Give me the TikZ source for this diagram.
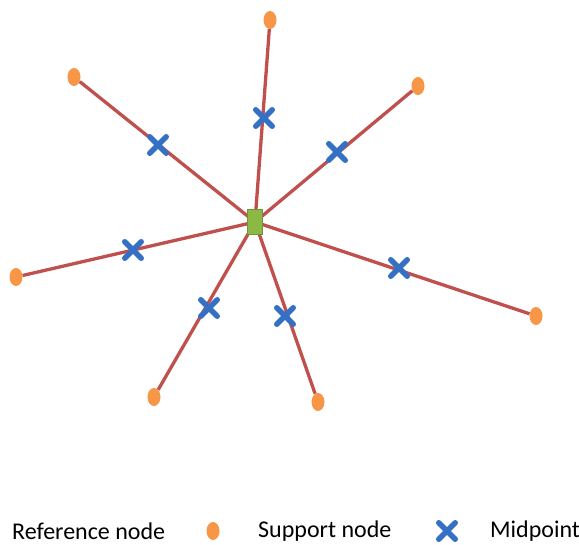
\documentclass[tikz,border=0pt]{standalone}
\usepackage{fontspec}
\setmainfont{Carlito}
\usetikzlibrary{shapes.geometric,shapes.misc}
\definecolor{linered}{RGB}{192,80,77}
\definecolor{supporange}{RGB}{247,150,70}
\definecolor{midblue}{RGB}{52,112,196}
\definecolor{refgreen}{RGB}{140,184,70}
\tikzset{
  support/.style={ellipse,fill=supporange,minimum width=13pt,minimum height=18pt,inner sep=0pt},
  midpt/.style={cross out,draw=midblue,line width=5.5pt,line cap=round,minimum size=11pt,inner sep=0pt},
  refnode/.style={rectangle,fill=refgreen,draw=refgreen!80!black,line width=0.4pt,minimum width=15pt,minimum height=25pt,inner sep=0pt},
  spoke/.style={draw=linered,line width=3.3pt},
  legend/.style={font=\fontsize{24}{28}\selectfont,anchor=west,inner sep=0pt}
}
\begin{document}
\begin{tikzpicture}[x=1pt,y=-1pt]
\useasboundingbox (0,0) rectangle (579,545);
\coordinate (c) at (255,222);
\node[support] (s1) at (270,20) {};
\node[support] (s2) at (74,77) {};
\node[support] (s3) at (418,86) {};
\node[support] (s4) at (16,277) {};
\node[support] (s5) at (536,316) {};
\node[support] (s6) at (154,397) {};
\node[support] (s7) at (318,402) {};
\foreach \i in {1,...,7} \draw[spoke] (c) -- (s\i);
\node[refnode] (ref) at (c) {};
\node[midpt] (m1) at (264,118) {};
\node[midpt] (m2) at (158,145) {};
\node[midpt] (m3) at (337,152) {};
\node[midpt] (m4) at (133,250) {};
\node[midpt] (m5) at (399,268) {};
\node[midpt] (m6) at (209,308) {};
\node[midpt] (m7) at (285,316) {};
% legend
\node[legend] (l1) at (12,531) {Reference node};
\node[support] (l2) at (213,531) {};
\node[legend] (l3) at (258,531) {Support node};
\node[midpt] (l4) at (447,531) {};
\node[legend] (l5) at (490,531) {Midpoint};
\end{tikzpicture}
\end{document}
